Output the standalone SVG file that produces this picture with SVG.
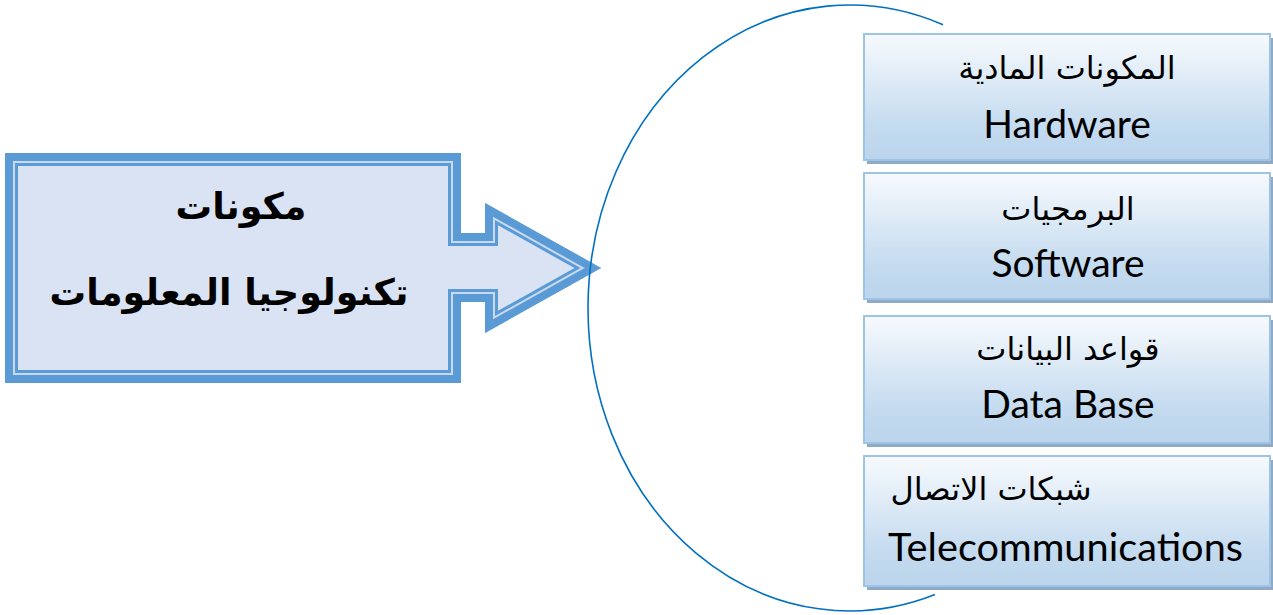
<svg xmlns="http://www.w3.org/2000/svg" width="1273" height="615" viewBox="0 0 1273 615">
<defs>
<style>
.ar{font-family:"DejaVu Sans",sans-serif;fill:#000}
.en{font-family:Lato,"Liberation Sans",sans-serif;fill:#000}
.box{fill:url(#g);stroke:#9dc3e6;stroke-width:2}
.sh{fill:#8faac4}
</style>
<linearGradient id="g" x1="0" y1="0" x2="0" y2="1">
<stop offset="0" stop-color="#f7fafd"/>
<stop offset="0.75" stop-color="#c3daef"/>
<stop offset="1" stop-color="#bcd5ec"/>
</linearGradient>
<path id="ap" d="M5,153 H461 V233 H485 V203 L601,268 L485,333 V302 H461 V383 H5 Z"/>
<clipPath id="ac"><use href="#ap"/></clipPath>
</defs>
<rect width="1273" height="615" fill="#fff"/>
<g id="main-arrow">
<use href="#ap" fill="#dae3f3"/>
<g clip-path="url(#ac)" fill="none" stroke-linejoin="miter">
<use href="#ap" stroke="#5b9bd5" stroke-width="26"/>
<use href="#ap" stroke="#c9daf0" stroke-width="20"/>
<use href="#ap" stroke="#5b9bd5" stroke-width="16"/>
</g>
<text class="ar" x="241" y="219" text-anchor="middle" font-size="36.5" font-weight="bold">مكونات</text>
<text class="ar" x="229" y="305" text-anchor="middle" font-size="36.5" font-weight="bold">تكنولوجيا المعلومات</text>
</g>
<g id="connectors">
<path d="M943,24.7 A262,303 0 1 0 935,594.6" fill="none" stroke="#0070c0" stroke-width="1.6"/>
</g>
<g id="box-hardware">
<rect class="sh" x="867" y="38" width="406" height="126"/>
<rect class="box" x="864" y="34" width="406" height="126"/>
<text class="ar" x="1067" y="79" text-anchor="middle" font-size="32">المكونات المادية</text>
<text class="en" x="1067" y="138" text-anchor="middle" font-size="39">Hardware</text>
</g>
<g id="box-software">
<rect class="sh" x="867" y="177" width="406" height="126"/>
<rect class="box" x="864" y="173" width="406" height="126"/>
<text class="ar" x="1068" y="220" text-anchor="middle" font-size="32">البرمجيات</text>
<text class="en" x="1068" y="277" text-anchor="middle" font-size="39">Software</text>
</g>
<g id="box-database">
<rect class="sh" x="867" y="320" width="406" height="127"/>
<rect class="box" x="864" y="316" width="406" height="127"/>
<text class="ar" x="1068" y="360" text-anchor="middle" font-size="32">قواعد البيانات</text>
<text class="en" x="1068" y="418" text-anchor="middle" font-size="39">Data Base</text>
</g>
<g id="box-telecom">
<rect class="sh" x="867" y="460" width="406" height="130"/>
<rect class="box" x="864" y="456" width="406" height="130"/>
<text class="ar" x="991" y="500" text-anchor="middle" font-size="32">شبكات الاتصال</text>
<text class="en" x="888" y="561" font-size="39" textLength="355" lengthAdjust="spacingAndGlyphs">Telecommunications</text>
</g>
</svg>
